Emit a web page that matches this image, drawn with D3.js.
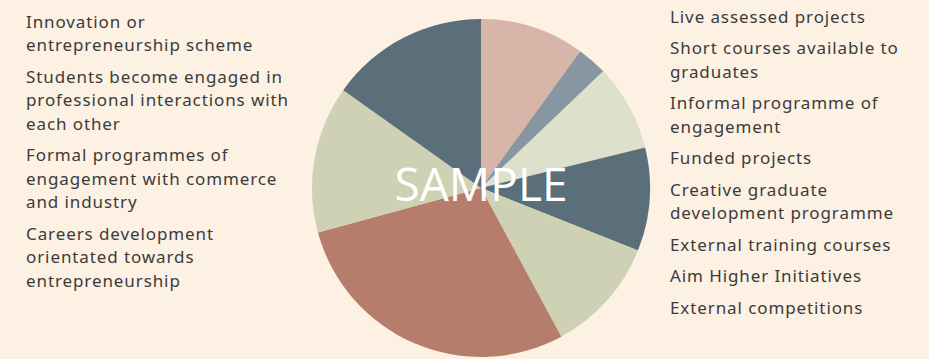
<!DOCTYPE html>
<html>
<head>
<meta charset="utf-8">
<script src="https://cdn.jsdelivr.net/npm/d3@7"></script>
<style>
  body { margin: 0; background: #fdf1e3; }
  svg { display: block; }
  .lbl { font-family: "Noto Sans", sans-serif; font-size: 17px; letter-spacing: 0.9px; fill: #3b3b3b; }
  .mark { font-family: "Open Sans", sans-serif; font-size: 46px; fill: #ffffff; }
</style>
</head>
<body>
<div id="chart"></div>
<script>
// slice shares (%) read clockwise from 12 o'clock
var slices = ["s1", "s2", "s3", "s4", "s5", "s6", "s7", "s8"];
var values = [10.0, 2.9, 8.3, 9.9, 11.1, 28.7, 14.1, 15.2];
var colors = ["#d7b5a8", "#8796a1", "#dde0ca", "#5b6f7b", "#cfd1b5", "#b77d6c", "#cfd1b5", "#5b6f7b"];

// legend text, one array per line-group
var leftLabels = [
  ["Innovation or", "entrepreneurship scheme"],
  ["Students become engaged in", "professional interactions with", "each other"],
  ["Formal programmes of", "engagement with commerce", "and industry"],
  ["Careers development", "orientated towards", "entrepreneurship"]
];
var rightLabels = [
  ["Live assessed projects"],
  ["Short courses available to", "graduates"],
  ["Informal programme of", "engagement"],
  ["Funded projects"],
  ["Creative graduate", "development programme"],
  ["External training courses"],
  ["Aim Higher Initiatives"],
  ["External competitions"]
];

var width = 929, height = 359;
var cx = 481, cy = 188, radius = 169;

var svg = d3.select("#chart").append("svg")
  .attr("width", width)
  .attr("height", height);

svg.append("rect").attr("width", width).attr("height", height).attr("fill", "#fdf1e3");

var pie = d3.pie().sort(null).value(function(d){ return d; });
var arc = d3.arc().innerRadius(0).outerRadius(radius);

var g = svg.append("g").attr("transform", "translate(" + cx + "," + cy + ")");
g.selectAll("path")
  .data(pie(values))
  .enter().append("path")
  .attr("d", arc)
  .attr("fill", function(d, i){ return colors[i]; });

// watermark
svg.append("text")
  .attr("class", "mark")
  .attr("x", cx)
  .attr("y", 201)
  .attr("text-anchor", "middle")
  .text("SAMPLE");

// legend columns
var lineH = 23.5, groupGap = 8;
function drawColumn(groups, x, y0){
  var y = y0;
  groups.forEach(function(lines){
    lines.forEach(function(t){
      svg.append("text").attr("class", "lbl").attr("x", x).attr("y", y).text(t);
      y += lineH;
    });
    y += groupGap;
  });
}
drawColumn(leftLabels, 26, 27.5);
drawColumn(rightLabels, 670, 22.5);
</script>
</body>
</html>
